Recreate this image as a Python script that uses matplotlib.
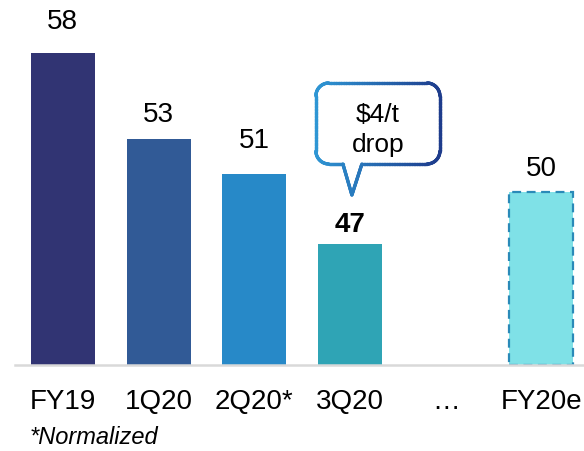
import matplotlib
matplotlib.use("Agg")
import matplotlib.pyplot as plt
import matplotlib.transforms as mtransforms
from matplotlib.collections import LineCollection
from matplotlib.colors import to_rgb
import numpy as np

plt.rcParams["font.family"] = ["Liberation Sans", "DejaVu Sans"]

# data
periods = ["FY19", "1Q20", "2Q20*", "3Q20", "…", "FY20e"]
positions = [0, 1, 2, 3, 5]
values = [58, 53, 51, 47, 50]
value_labels = ["58", "53", "51", "47", "50"]
bar_colors = ["#313473", "#315A96", "#2789C8", "#2FA4B5", "#7FE1E7"]
callout_text = "\\$4/t\ndrop"
footnote = "*Normalized"

# layout (pixel gap between bar top and label baseline)
label_gap = [24, 17, 26, 12, 16]

DPI = 100
fig = plt.figure(figsize=(5.84, 4.51), dpi=DPI)
ax = fig.add_axes([15 / 584, 86 / 451, 569 / 584, 365 / 451])

for i, (p, v) in enumerate(zip(positions, values)):
    estimate = periods[p] == "FY20e"
    ax.bar(p, v - 40, bottom=40, width=0.67, color=bar_colors[i],
           edgecolor="#2A8AB8" if estimate else "none",
           linestyle=(0, (4, 2.5)) if estimate else "-",
           linewidth=1.6 if estimate else 0, zorder=2)
    ax.annotate(value_labels[i], (p, v), xytext=(0, label_gap[i] * 0.72),
                textcoords="offset points", ha="center", va="baseline",
                fontsize=20, color="black",
                fontweight="bold" if p == 3 else "normal")

ax.set_xlim(-0.50, 5.445)
ax.set_ylim(40, 61.04)
ax.set_xticks(range(len(periods)))
ax.set_xticklabels(periods, fontsize=20)
ax.tick_params(axis="x", length=0, pad=17)
ax.set_yticks([])
for s in ["top", "right", "left"]:
    ax.spines[s].set_visible(False)
ax.spines["bottom"].set_color("#D9D9D9")
ax.spines["bottom"].set_linewidth(1.8)
ax.spines["bottom"].set_zorder(3)

# speech-bubble callout above the 3Q20 bar (geometry in pixels from the tip)
left, right, bot, top, rad = -36, 88, 31, 112, 13
tail_l, tail_r = -9, 10


def seg(a, b, n=40):
    t = np.linspace(0, 1, n)[:, None]
    return np.array(a) * (1 - t) + np.array(b) * t


def arc(cx, cy, a0, a1, n=30):
    a = np.radians(np.linspace(a0, a1, n))
    return np.column_stack([cx + rad * np.cos(a), cy + rad * np.sin(a)])


outline = np.vstack([
    seg((0, 0), (tail_r, bot)),
    seg((tail_r, bot), (right - rad, bot)),
    arc(right - rad, bot + rad, -90, 0),
    seg((right, bot + rad), (right, top - rad)),
    arc(right - rad, top - rad, 0, 90),
    seg((right - rad, top), (left + rad, top)),
    arc(left + rad, top - rad, 90, 180),
    seg((left, top - rad), (left, bot + rad)),
    arc(left + rad, bot + rad, 180, 270),
    seg((left + rad, bot), (tail_l, bot)),
    seg((tail_l, bot), (0, 0)),
])

tip_y = values[3] + 2.8
trans = (mtransforms.Affine2D().scale(1 / DPI) + fig.dpi_scale_trans
         + mtransforms.ScaledTranslation(3.02, tip_y, ax.transData))

ax.fill(outline[:, 0], outline[:, 1], color="white", transform=trans,
        zorder=4, clip_on=False)
segs = np.stack([outline[:-1], outline[1:]], axis=1)
c0, c1 = np.array(to_rgb("#2E96D4")), np.array(to_rgb("#1E3C8C"))
frac = ((segs[:, 0, 0] + segs[:, 1, 0]) / 2 - left) / (right - left)
frac = np.clip(frac, 0, 1)[:, None]
lc = LineCollection(segs, colors=c0 * (1 - frac) + c1 * frac,
                    linewidths=2.4, capstyle="round", joinstyle="round",
                    transform=trans, zorder=5, clip_on=False)
ax.add_collection(lc)
ax.text(26, 65, callout_text, transform=trans, ha="center", va="center",
        fontsize=19, linespacing=1.32, zorder=6)

fig.text(30 / 584, 1 - 437 / 451, footnote, fontsize=17, style="italic",
         ha="left", va="center")

fig.savefig("out.png", dpi=DPI)
